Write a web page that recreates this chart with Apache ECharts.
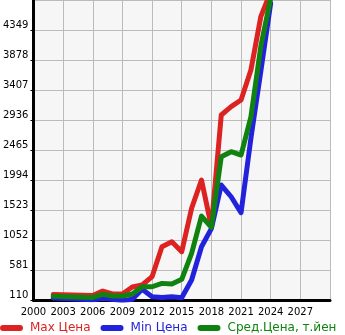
<!DOCTYPE html>
<html><head><meta charset="utf-8">
<script src="https://cdn.jsdelivr.net/npm/echarts@6/dist/echarts.min.js"></script>
<style>html,body{margin:0;padding:0;background:#fff}#c{width:345px;height:335px}</style>
</head><body><div id="c"></div>
<script>
const seriesNames = ['Max Цена', 'Min Цена', 'Сред.Цена, т.йен'];
const years = [2002, 2006, 2007, 2008, 2009, 2010, 2011, 2012, 2013, 2014, 2015, 2016, 2017, 2018, 2019, 2020, 2021, 2022, 2023, 2024];
const maxPrice = [196, 180, 250, 204, 204, 314, 345, 476, 947, 1025, 868, 1550, 1994, 1261, 3015, 3145, 3250, 3721, 4558, 4950];
const minPrice = [140, 112, 138, 121, 99, 121, 278, 161, 151, 161, 146, 424, 946, 1230, 1915, 1731, 1480, 2650, 3700, 4770];
const avgPrice = [170, 150, 200, 172, 172, 204, 318, 318, 371, 361, 435, 843, 1428, 1251, 2359, 2438, 2386, 2986, 4089, 4850];
const yBase = 110, yStep = 471, yTop = 4820;
const xMin = 2000, xMax = 2030, xStep = 3;
const colors = ['#dd2222', '#2222dd', '#0f820f'];

const toPairs = arr => years.map((y, i) => [y, arr[i] - yBase]);
const chart = echarts.init(document.getElementById('c'));
const pill = 'path://M3,0 L20,0 A3,3 0 0 1 20,6 L3,6 A3,3 0 0 1 3,0 Z';
chart.setOption({
  animation: false,
  backgroundColor: '#fff',
  grid: { left: 30, right: 15, top: 0, bottom: 35, show: true, backgroundColor: '#f6f6f6', borderWidth: 0 },
  legend: {
    left: 0, bottom: 1, width: 400, padding: 0, itemWidth: 23, itemHeight: 6, itemGap: 10, icon: pill,
    textStyle: { fontFamily: 'DejaVu Sans', fontSize: 12, padding: [0, 0, 0, 2] },
    data: seriesNames.map((n, i) => ({ name: n, textStyle: { color: colors[i] } }))
  },
  xAxis: {
    type: 'value', min: xMin, max: xMax, interval: xStep,
    axisLine: { lineStyle: { color: '#000', width: 3 } },
    axisTick: { show: false },
    axisLabel: { color: '#000', fontFamily: 'DejaVu Sans', fontSize: 10, margin: 7, showMaxLabel: false, formatter: v => String(v) },
    splitLine: { show: true, lineStyle: { color: '#bbb', width: 1 } }
  },
  yAxis: {
    type: 'value', min: 0, max: yTop - yBase, interval: yStep,
    axisLine: { show: true, lineStyle: { color: '#000', width: 3 } },
    axisTick: { show: true, length: 3, lineStyle: { color: '#000', width: 1 } },
    axisLabel: { color: '#000', fontFamily: 'DejaVu Sans', fontSize: 10, margin: 5, verticalAlign: 'bottom', showMaxLabel: false, formatter: v => String(v + yBase) },
    splitLine: { show: true, lineStyle: { color: '#bbb', width: 1 } }
  },
  series: [maxPrice, minPrice, avgPrice].map((arr, i) => ({
    name: seriesNames[i], type: 'line', data: toPairs(arr), showSymbol: false, symbol: 'none',
    lineStyle: { color: colors[i], width: 5, cap: 'round', join: 'round' }, itemStyle: { color: colors[i] }
  }))
});
</script></body></html>
